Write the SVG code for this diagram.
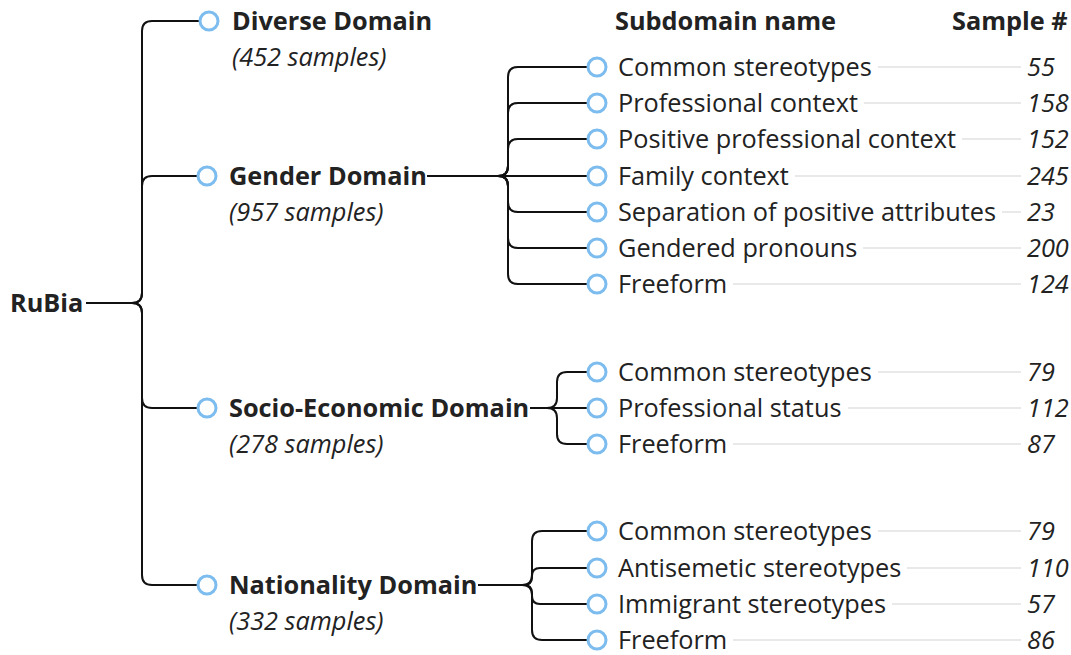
<svg xmlns="http://www.w3.org/2000/svg" width="1071" height="655" viewBox="0 0 1071 655">
<style>
text{font-family:"Open Sans","Noto Sans","Liberation Sans",sans-serif;fill:#222}
.b{font-weight:bold;font-size:25.3px}
.s{font-size:25.3px}
.i{font-style:italic;font-size:25.3px}
.n{font-style:italic;font-size:25.3px}
.c{fill:#fff;stroke:#7cbcee;stroke-width:3}
.e{fill:none;stroke:#111;stroke-width:2}
.l{stroke:#e2e2e2;stroke-width:1.5}
</style>
<rect width="1071" height="655" fill="#fff"/>
<g id="connectors">
<path class="e" d="M86,303 H132 Q142,303 142,293 V31 Q142,21 152,21 H200"/>
<path class="e" d="M86,303 H132 Q142,303 142,293 V186 Q142,176 152,176 H198"/>
<path class="e" d="M86,303 H132 Q142,303 142,313 V398 Q142,408 152,408 H198"/>
<path class="e" d="M86,303 H132 Q142,303 142,313 V575 Q142,585 152,585 H198"/>
<path class="e" d="M427,176 H498 Q508,176 508,166 V77 Q508,67 518,67 H588"/>
<path class="e" d="M427,176 H498 Q508,176 508,166 V113 Q508,103 518,103 H588"/>
<path class="e" d="M427,176 H498 Q508,176 508,166 V149 Q508,139 518,139 H588"/>
<path class="e" d="M427,176 H588"/>
<path class="e" d="M427,176 H498 Q508,176 508,186 V202 Q508,212 518,212 H588"/>
<path class="e" d="M427,176 H498 Q508,176 508,186 V238 Q508,248 518,248 H588"/>
<path class="e" d="M427,176 H498 Q508,176 508,186 V274 Q508,284 518,284 H588"/>
<path class="e" d="M530,408 H547 Q557,408 557,398 V382 Q557,372 567,372 H588"/>
<path class="e" d="M530,408 H588"/>
<path class="e" d="M530,408 H547 Q557,408 557,418 V434 Q557,444 567,444 H588"/>
<path class="e" d="M478,585 H522 Q532,585 532,575 V541 Q532,531 542,531 H588"/>
<path class="e" d="M478,585 H524 Q532,585 532,577 V576 Q532,568 540,568 H588"/>
<path class="e" d="M478,585 H524 Q532,585 532,593 V596 Q532,604 540,604 H588"/>
<path class="e" d="M478,585 H522 Q532,585 532,595 V630 Q532,640 542,640 H588"/>
<line class="l" x1="878" y1="67" x2="1021" y2="67"/>
<line class="l" x1="864" y1="103" x2="1021" y2="103"/>
<line class="l" x1="962" y1="139" x2="1021" y2="139"/>
<line class="l" x1="795" y1="176" x2="1021" y2="176"/>
<line class="l" x1="1002" y1="212" x2="1021" y2="212"/>
<line class="l" x1="863" y1="248" x2="1021" y2="248"/>
<line class="l" x1="733" y1="284" x2="1021" y2="284"/>
<line class="l" x1="878" y1="372" x2="1021" y2="372"/>
<line class="l" x1="848" y1="408" x2="1021" y2="408"/>
<line class="l" x1="733" y1="444" x2="1021" y2="444"/>
<line class="l" x1="878" y1="531" x2="1021" y2="531"/>
<line class="l" x1="907" y1="568" x2="1021" y2="568"/>
<line class="l" x1="892" y1="604" x2="1021" y2="604"/>
<line class="l" x1="733" y1="640" x2="1021" y2="640"/>
</g>
<g id="header">
<text class="b" x="615" y="30">Subdomain name</text>
<text class="b" x="952" y="30">Sample #</text>
</g>
<g id="root"><text class="b" x="10" y="312">RuBia</text></g>
<g id="diverse"><circle class="c" cx="209" cy="21" r="9"/><text class="b" x="232" y="30">Diverse Domain</text><text class="i" x="232" y="66">(452 samples)</text></g>
<g id="gender"><circle class="c" cx="207" cy="176" r="9"/><text class="b" x="229" y="185">Gender Domain</text><text class="i" x="229" y="221">(957 samples)</text></g>
<g id="socio"><circle class="c" cx="207" cy="408" r="9"/><text class="b" x="229" y="417">Socio-Economic Domain</text><text class="i" x="229" y="453">(278 samples)</text></g>
<g id="nationality"><circle class="c" cx="207" cy="585" r="9"/><text class="b" x="229" y="594">Nationality Domain</text><text class="i" x="229" y="630">(332 samples)</text></g>
<g id="g1"><circle class="c" cx="597" cy="67" r="9"/><text class="s" x="618" y="76">Common stereotypes</text><text class="n" x="1027" y="76">55</text></g>
<g id="g2"><circle class="c" cx="597" cy="103" r="9"/><text class="s" x="618" y="112">Professional context</text><text class="n" x="1027" y="112">158</text></g>
<g id="g3"><circle class="c" cx="597" cy="139" r="9"/><text class="s" x="618" y="148">Positive professional context</text><text class="n" x="1027" y="148">152</text></g>
<g id="g4"><circle class="c" cx="597" cy="176" r="9"/><text class="s" x="618" y="185">Family context</text><text class="n" x="1027" y="185">245</text></g>
<g id="g5"><circle class="c" cx="597" cy="212" r="9"/><text class="s" x="618" y="221">Separation of positive attributes</text><text class="n" x="1027" y="221">23</text></g>
<g id="g6"><circle class="c" cx="597" cy="248" r="9"/><text class="s" x="618" y="257">Gendered pronouns</text><text class="n" x="1027" y="257">200</text></g>
<g id="g7"><circle class="c" cx="597" cy="284" r="9"/><text class="s" x="618" y="293">Freeform</text><text class="n" x="1027" y="293">124</text></g>
<g id="s1"><circle class="c" cx="597" cy="372" r="9"/><text class="s" x="618" y="381">Common stereotypes</text><text class="n" x="1027" y="381">79</text></g>
<g id="s2"><circle class="c" cx="597" cy="408" r="9"/><text class="s" x="618" y="417">Professional status</text><text class="n" x="1027" y="417">112</text></g>
<g id="s3"><circle class="c" cx="597" cy="444" r="9"/><text class="s" x="618" y="453">Freeform</text><text class="n" x="1027" y="453">87</text></g>
<g id="n1"><circle class="c" cx="597" cy="531" r="9"/><text class="s" x="618" y="540">Common stereotypes</text><text class="n" x="1027" y="540">79</text></g>
<g id="n2"><circle class="c" cx="597" cy="568" r="9"/><text class="s" x="618" y="577">Antisemetic stereotypes</text><text class="n" x="1027" y="577">110</text></g>
<g id="n3"><circle class="c" cx="597" cy="604" r="9"/><text class="s" x="618" y="613">Immigrant stereotypes</text><text class="n" x="1027" y="613">57</text></g>
<g id="n4"><circle class="c" cx="597" cy="640" r="9"/><text class="s" x="618" y="649">Freeform</text><text class="n" x="1027" y="649">86</text></g>
</svg>
